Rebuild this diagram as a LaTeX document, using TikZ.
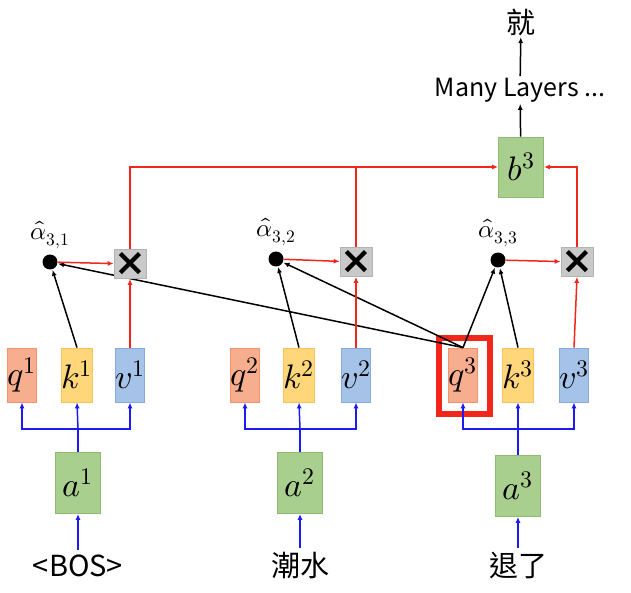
\documentclass[tikz,border=0pt]{standalone}
\usepackage{fontspec}
\usepackage{unicode-math}
\setmathfont{Latin Modern Math}
\usetikzlibrary{arrows.meta,positioning}
\newfontfamily\cjk{Noto Sans CJK TC}
\newfontfamily\symfont{DejaVu Sans}
\definecolor{qfill}{HTML}{F7AE8F}
\definecolor{qline}{HTML}{F29270}
\definecolor{kfill}{HTML}{FFD77A}
\definecolor{kline}{HTML}{F7C45A}
\definecolor{vfill}{HTML}{A5C3E9}
\definecolor{vline}{HTML}{86AADB}
\definecolor{afill}{HTML}{A9CF8F}
\definecolor{aline}{HTML}{8EBB72}
\definecolor{mfill}{HTML}{C9C9C9}
\definecolor{mline}{HTML}{B3B3B3}
\definecolor{attred}{HTML}{F2261B}
\definecolor{inblue}{HTML}{1A1AF5}

\begin{document}
\begin{tikzpicture}[
  x=1pt, y=-1pt,
  >={Latex[length=6pt,width=5pt]},
  every path/.style={line width=1.5pt},
  box/.style={draw, line width=0.8pt, minimum width=29pt, minimum height=54pt,
              inner sep=0pt, font=\fontsize{34}{36}\selectfont},
  qbox/.style={box, fill=qfill, draw=qline},
  kbox/.style={box, fill=kfill, draw=kline},
  vbox/.style={box, fill=vfill, draw=vline},
  abox/.style={box, fill=afill, draw=aline, minimum width=45pt, minimum height=61pt},
  mult/.style={draw=mline, fill=mfill, line width=0.8pt, minimum size=29pt,
               inner sep=0pt, font=\symfont\bfseries\fontsize{38}{38}\selectfont},
  dot/.style={circle, fill=black, minimum size=15pt, inner sep=0pt},
  score/.style={font=\fontsize{25}{27}\selectfont, inner sep=0pt},
  word/.style={font=\cjk\fontsize{29}{31}\selectfont, inner sep=1pt},
  qkv/.style={->, inblue},
  att/.style={->, black},
  val/.style={->, attred},
]
\useasboundingbox (0,0) rectangle (631,593);

% --- Input tokens and embeddings ---
\node[word] (bos) at (78,566)  {<BOS>};
\node[word] (w2)  at (300,566) {潮水};
\node[word] (w3)  at (518,566) {退了};
\node[abox] (a1) at (78,483)  {$a^1$};
\node[abox] (a2) at (300,483) {$a^2$};
\node[abox] (a3) at (518,486) {$a^3$};
\draw[qkv, shorten <=3pt] (bos) -- (a1);
\draw[qkv, shorten <=3pt] (w2)  -- (a2);
\draw[qkv, shorten <=3pt] (w3)  -- (a3);

% --- Query / key / value boxes ---
\node[qbox] (q1) at (22,375)  {$q^1$};
\node[kbox] (k1) at (77,375)  {$k^1$};
\node[vbox] (v1) at (130,375) {$v^1$};
\node[qbox] (q2) at (245,375) {$q^2$};
\node[kbox] (k2) at (299,375) {$k^2$};
\node[vbox] (v2) at (356,375) {$v^2$};
\node[qbox] (q3) at (463,375) {$q^3$};
\node[kbox] (k3) at (518,375) {$k^3$};
\node[vbox] (v3) at (574,375) {$v^3$};

% highlighted query
\node[draw=attred, line width=6pt, minimum width=51pt, minimum height=76pt]
  (hl) at (464.5,376) {};

% --- Blue buses from a^i to q, k, v ---
\coordinate (bus1) at (a1.north |- 0,429);
\coordinate (bus2) at (a2.north |- 0,429);
\coordinate (bus3) at (a3.north |- 0,429);
\draw[inblue] (a1.north) -- (bus1);
\draw[inblue] (a2.north) -- (bus2);
\draw[inblue] (a3.north) -- (bus3);
\draw[qkv] (bus1) -| (q1.south);
\draw[qkv] (bus1) -- (k1.south);
\draw[qkv] (bus1) -| (v1.south);
\draw[qkv] (bus2) -| (q2.south);
\draw[qkv] (bus2) -- (k2.south);
\draw[qkv] (bus2) -| (v2.south);
\draw[qkv] (bus3) -| (q3.south);
\draw[qkv] (bus3) -- (k3.south);
\draw[qkv] (bus3) -| (v3.south);

% --- Attention scores ---
\node[dot] (d1) at (50,262)  {};
\node[dot] (d2) at (276,259) {};
\node[dot] (d3) at (498,260) {};
\node[score, above=4pt of d1] (s1) {$\hat{\alpha}_{3,1}$};
\node[score, above=4pt of d2] (s2) {$\hat{\alpha}_{3,2}$};
\node[score, above=4pt of d3] (s3) {$\hat{\alpha}_{3,3}$};
\draw[att] (k1.north) -- (d1);
\draw[att] (k2.north) -- (d2);
\draw[att] (k3.north) -- (d3);
\draw[att] (q3.north) -- (d3);
\draw[att] (q3.north) -- (d2);
\draw[att] (q3.north) -- (d1);

% --- Weighting of values ---
\node[mult] (m1) at (130,264) {×};
\node[mult] (m2) at (356,262) {×};
\node[mult] (m3) at (577,262) {×};
\draw[val] (d1) -- (m1);
\draw[val] (d2) -- (m2);
\draw[val] (d3) -- (m3);
\draw[val] (v1.north) -- (m1.south);
\draw[val] (v2.north) -- (m2.south);
\draw[val] (v3.north) -- (m3.south);

% --- Sum into b^3 and upper layers ---
\node[abox, minimum height=60pt] (b3) at (521,167) {$b^3$};
\draw[val] (m1.north) |- (b3.west);
\draw[attred] (m2.north) -- (m2.north |- b3.west);
\draw[val] (m3.north) |- (b3.east);
\node[word, font=\cjk\fontsize{25}{28}\selectfont] (many) at (520,90) {Many Layers ...};
\node[word] (jiu) at (521,22) {就};
\draw[att] (b3) -- (many);
\draw[att] (many) -- (jiu);
\end{tikzpicture}
\end{document}
